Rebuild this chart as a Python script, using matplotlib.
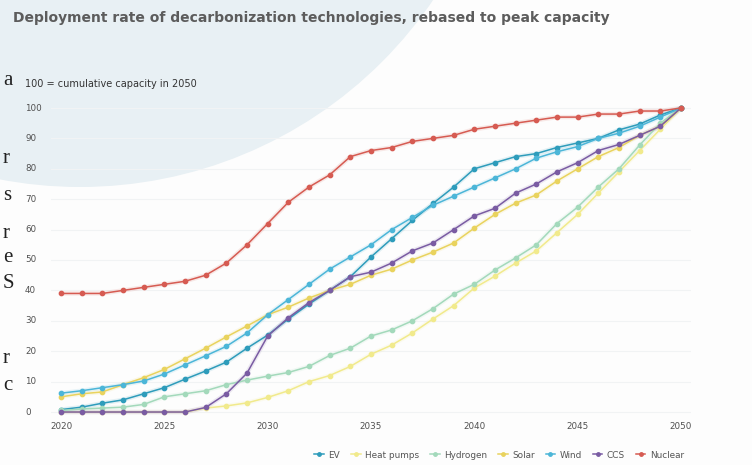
import matplotlib
matplotlib.use("Agg")
import matplotlib.pyplot as plt
from matplotlib.patches import Circle

years = list(range(2020, 2051))

ev = [0.8, 1.6, 2.9, 4, 6, 8, 10.8, 13.5, 16.4, 21, 25.3, 30.6, 35.5, 40, 44.5, 51,
      57, 63, 68.6, 74, 80, 82, 84, 85, 87, 88.5, 90, 92.8, 94.7, 97.7, 100]
heat_pumps = [0, 0, 0, 0, 0, 0, 0, 1.3, 2, 3, 4.8, 7, 10, 12, 15, 19,
              22, 26, 30.6, 35, 40.8, 44.7, 49, 53, 59, 65, 72, 79, 86, 93, 100]
hydrogen = [0.5, 1, 1.3, 1.6, 2.5, 5, 6, 7, 9, 10.5, 11.8, 13, 15, 18.6, 21, 25,
            27, 30, 34, 38.8, 42, 46.7, 50.7, 55, 62, 67.4, 74, 80, 87.8, 95, 100]
solar = [5, 6, 6.6, 9, 11.3, 14, 17.5, 21, 24.7, 28.3, 32, 34.5, 37.5, 40, 42, 45,
         47, 50, 52.6, 55.6, 60.5, 65, 68.7, 71.4, 76, 80, 84, 87, 91, 94, 100]
wind = [6.2, 7, 8, 9, 10.2, 12.5, 15.5, 18.5, 21.6, 26, 32, 37, 42, 47, 51, 55,
        60, 64, 68, 71, 74, 77, 80, 83.5, 85.6, 87.3, 90, 91.7, 94, 97, 100]
ccs = [0, 0, 0, 0, 0, 0, 0, 1.5, 6, 12.8, 25, 31, 36, 40, 44.5, 46,
       49, 53, 55.6, 60, 64.5, 67, 72, 75, 79, 82, 86, 88, 91, 94, 100]
nuclear = [39, 39, 39, 40, 41, 42, 43, 45, 49, 55, 62, 69, 74, 78, 84, 86,
           87, 89, 90, 91, 93, 94, 95, 96, 97, 97, 98, 98, 99, 99, 100]

series_names = ["EV", "Heat pumps", "Hydrogen", "Solar", "Wind", "CCS", "Nuclear"]
series_values = [ev, heat_pumps, hydrogen, solar, wind, ccs, nuclear]
colors = ["#2e9cbb", "#f1ea8c", "#a3d9bb", "#e9d35e", "#4cb6d8", "#7a5ca3", "#d65b52"]

x_ticks = [2020, 2025, 2030, 2035, 2040, 2045, 2050]
y_ticks = [0, 10, 20, 30, 40, 50, 60, 70, 80, 90, 100]

title = "Deployment rate of decarbonization technologies, rebased to peak capacity"
subtitle = "100 = cumulative capacity in 2050"
margin_letters = [("a", 80), ("r", 158), ("s", 196), ("r", 233), ("e", 258),
                  ("S", 283), ("r", 358), ("c", 385)]

W, H = 752, 465
fig = plt.figure(figsize=(W / 100, H / 100), dpi=100)
fig.patch.set_facecolor("#fdfdfd")

# background circle (light blue)
bg = fig.add_axes([0, 0, 1, 1], zorder=-10)
bg.set_xlim(0, W)
bg.set_ylim(H, 0)
bg.axis("off")
bg.add_patch(Circle((80, -240), 427, facecolor="#e8f0f4", edgecolor="none"))

ax = fig.add_axes([50.7 / W, 1 - 418.1 / H, 640.6 / W, 316.2 / H])
ax.patch.set_alpha(0)
ax.set_xlim(2019.5, 2050.5)
ax.set_ylim(-2, 102)

for yv in y_ticks:
    ax.axhline(yv, color="#f1f3f4", lw=0.8, zorder=0)

for name, vals, c in zip(series_names, series_values, colors):
    ax.plot(years, vals, color=c, lw=3.2, alpha=0.13, solid_capstyle="round", zorder=1)
    ax.plot(years, vals, color=c, lw=1.1, marker="o", ms=3.1, mec=c, mfc=c,
            label=name, zorder=2)

for s in ax.spines.values():
    s.set_visible(False)
ax.set_xticks(x_ticks)
ax.set_xticklabels([str(t) for t in x_ticks])
ax.set_yticks(y_ticks)
ax.set_yticklabels([])
ax.tick_params(axis="both", length=0, labelsize=6.3, labelcolor="#505050")
ax.tick_params(axis="x", pad=3)
for lab in ax.get_xticklabels():
    lab.set_fontfamily("DejaVu Sans")

# y labels left aligned at x=25 px
for yv in y_ticks:
    ypix = 412 - yv * 3.04
    fig.text(25 / W, 1 - ypix / H, str(yv), ha="left", va="center", fontsize=6.3,
             color="#505050", family="DejaVu Sans")

fig.text(13 / W, 1 - 18 / H, title, ha="left", va="center", fontsize=10.0,
         fontweight="bold", color="#5c5c5c", family="DejaVu Sans")
fig.text(25 / W, 1 - 84 / H, subtitle, ha="left", va="center", fontsize=7.0,
         color="#333333", family="DejaVu Sans")

for ch, yp in margin_letters:
    fig.text(3 / W, 1 - yp / H, ch, ha="left", va="center", fontsize=15,
             color="#222222", family="Liberation Serif")

leg = fig.legend(loc="center right", bbox_to_anchor=(692 / W, 1 - 455 / H),
                 ncol=7, frameon=False, handlelength=1.1,
                 handletextpad=0.5, columnspacing=1.2, markerscale=0.8,
                 prop={"family": "DejaVu Sans", "size": 6.4})
for t in leg.get_texts():
    t.set_color("#555555")

fig.savefig("out.png", dpi=100, facecolor=fig.get_facecolor())
